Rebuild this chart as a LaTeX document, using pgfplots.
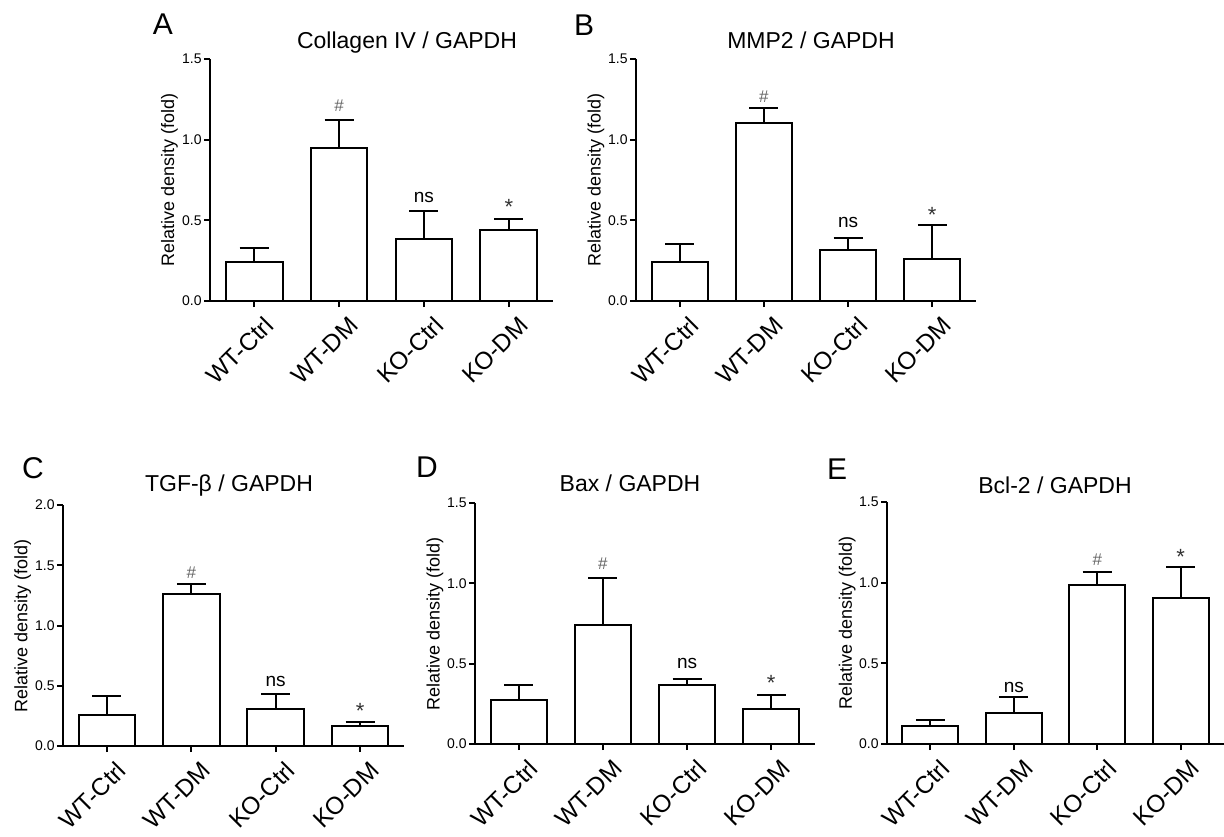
\documentclass[border=0pt]{standalone}
\usepackage{fontspec}
\setmainfont{Liberation Sans}
\usepackage{pgfplots}
\pgfplotsset{compat=1.18}
\pgfplotsset{
  panel/.style={
    scale only axis,
    width=170pt, height=121pt,
    axis lines=left,
    axis line style={-, line width=1pt, black},
    xmin=-0.52, xmax=3.52, ymin=0, ymax=1.5,
    ytick={0,0.5,1.0,1.5},
    xtick={0,1,2,3},
    xticklabels={WT-Ctrl,WT-DM,KO-Ctrl,KO-DM},
    tick align=outside,
    major tick length=3pt,
    tick style={line width=1pt, black},
    /pgf/number format/assume math mode=true,
    x tick label style={font=\fontsize{12.2}{12.2}\selectfont, xshift=7.5pt, yshift=-7pt, rotate=45, anchor=east, inner sep=0pt},
    y tick label style={font=\fontsize{7}{7}\selectfont, inner sep=1pt, /pgf/number format/.cd, fixed, fixed zerofill, precision=1},
    ylabel={Relative density (fold)},
    ylabel style={font=\fontsize{9}{9}\selectfont, at={(axis description cs:-0.118,0.5)}, anchor=center, rotate=0},
    ybar, bar width=0.67,
    clip=false,
  },
  bars/.style={
    draw=black, fill=white, line width=1pt,
    error bars/.cd, y dir=plus, y explicit,
    error bar style={line width=1pt, black},
    error mark options={rotate=90, mark size=7.25pt, line width=1pt, black},
  },
}
\tikzset{
  hash/.style={anchor=north, font=\fontsize{8.5}{8.5}\selectfont, text=black!60, inner sep=0pt},
  ns/.style={anchor=north, font=\fontsize{9.5}{9.5}\selectfont, inner sep=0pt},
  star/.style={anchor=north, font=\fontsize{11}{11}\selectfont, text=black!80, inner sep=0pt},
}
\begin{document}
\begin{tikzpicture}
\useasboundingbox (0,0) rectangle (612pt,418pt);
% ---------- A ----------
\begin{axis}[panel, at={(105pt,267.5pt)}, anchor=south west, width=171.5pt]
\addplot[bars] coordinates {(0,0.242) +- (0,0.089) (1,0.946) +- (0,0.175) (2,0.383) +- (0,0.174) (3,0.441) +- (0,0.070)};
\node[hash] at (axis cs:1,1.248) {\#};
\node[ns] at (axis cs:2,0.679) {ns};
\node[star] at (axis cs:3,0.631) {*};
\end{axis}
% ---------- B ----------
\begin{axis}[panel, at={(318pt,267.5pt)}, anchor=south west]
\addplot[bars] coordinates {(0,0.240) +- (0,0.116) (1,1.103) +- (0,0.091) (2,0.317) +- (0,0.072) (3,0.259) +- (0,0.211)};
\node[hash] at (axis cs:1,1.306) {\#};
\node[ns] at (axis cs:2,0.523) {ns};
\node[star] at (axis cs:3,0.581) {*};
\end{axis}
% ---------- C ----------
\begin{axis}[panel, at={(31.5pt,45pt)}, anchor=south west, width=170.5pt, height=120.5pt, ymax=2.0, ytick={0,0.5,1.0,1.5,2.0}]
\addplot[bars] coordinates {(0,0.255) +- (0,0.163) (1,1.263) +- (0,0.078) (2,0.305) +- (0,0.124) (3,0.169) +- (0,0.030)};
\node[hash] at (axis cs:1,1.488) {\#};
\node[ns] at (axis cs:2,0.579) {ns};
\node[star] at (axis cs:3,0.360) {*};
\end{axis}
% ---------- D ----------
\begin{axis}[panel, at={(237.5pt,46pt)}, anchor=south west, height=120.5pt]
\addplot[bars] coordinates {(0,0.276) +- (0,0.089) (1,0.743) +- (0,0.290) (2,0.365) +- (0,0.042) (3,0.218) +- (0,0.089)};
\node[hash] at (axis cs:1,1.164) {\#};
\node[ns] at (axis cs:2,0.535) {ns};
\node[star] at (axis cs:3,0.427) {*};
\end{axis}
% ---------- E ----------
\begin{axis}[panel, at={(443.5pt,46pt)}, anchor=south west, width=168.5pt]
\addplot[bars] coordinates {(0,0.110) +- (0,0.041) (1,0.192) +- (0,0.097) (2,0.986) +- (0,0.078) (3,0.903) +- (0,0.196)};
\node[ns] at (axis cs:1,0.388) {ns};
\node[hash] at (axis cs:2,1.184) {\#};
\node[star] at (axis cs:3,1.209) {*};
\end{axis}
% ---------- titles ----------
\begin{scope}[every node/.style={anchor=base, inner sep=0pt, font=\fontsize{11.5}{11.5}\selectfont}]
\node at (203.5pt,393.5pt) {Collagen IV / GAPDH};
\node at (405.5pt,393.8pt) {MMP2 / GAPDH};
\node at (114.5pt,172.2pt) {TGF-β / GAPDH};
\node at (315pt,172.2pt) {Bax / GAPDH};
\node at (527.5pt,171.5pt) {Bcl-2 / GAPDH};
\end{scope}
% ---------- panel letters ----------
\begin{scope}[every node/.style={anchor=base, inner sep=0pt, font=\fontsize{15}{15}\selectfont}]
\node at (81.5pt,400.5pt) {A};
\node at (292pt,400pt) {B};
\node at (16.5pt,179pt) {C};
\node at (213.5pt,179.5pt) {D};
\node at (418.5pt,178.5pt) {E};
\end{scope}
\end{tikzpicture}
\end{document}
